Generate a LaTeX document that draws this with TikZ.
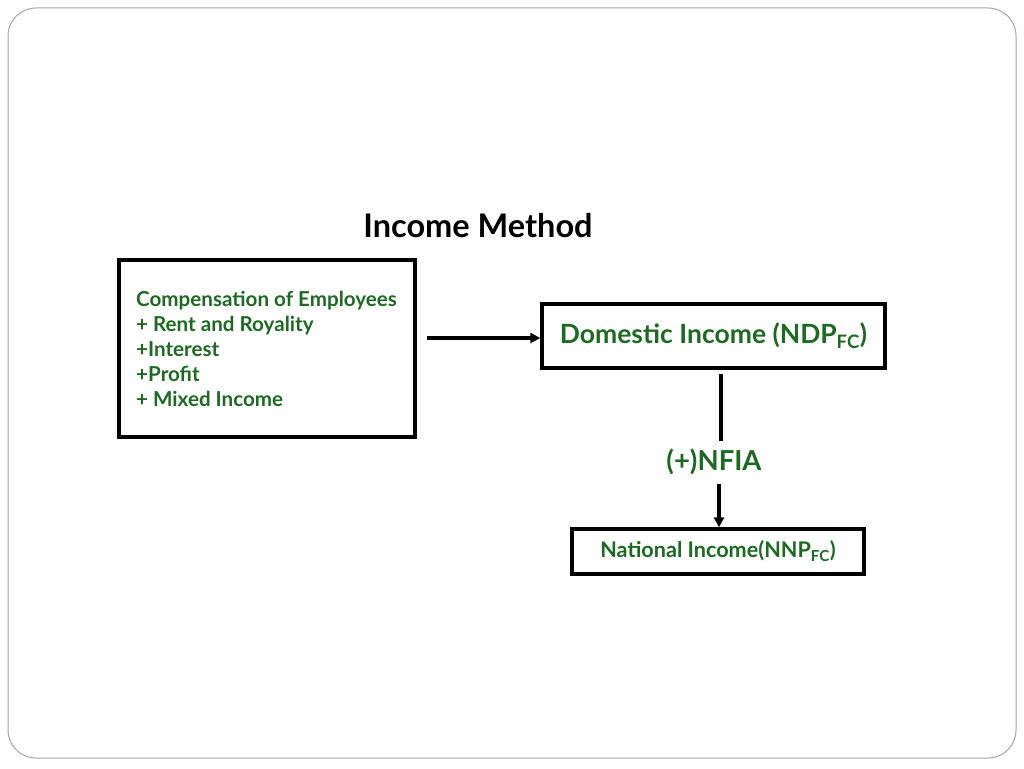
\documentclass[tikz,border=0pt]{standalone}
\usepackage{fontspec}
\setmainfont{Lato}
\usetikzlibrary{arrows.meta}
\definecolor{grn}{RGB}{30,105,35}
\begin{document}
\begin{tikzpicture}[x=1pt,y=-1pt,
  bx/.style={draw=black,line width=3.4pt},
  arr/.style={line width=3.4pt,-{Triangle[length=10pt,width=10pt]}}]
\useasboundingbox (0,0) rectangle (1024,768);
\draw[draw=gray!70,line width=1pt,rounded corners=28pt] (8,8) rectangle (1016,758);
\node (title) at (478,226) {\fontsize{32.5}{36}\selectfont\bfseries Income Method};
\draw[bx] (119,260) rectangle (415,437);
\node[text=grn,anchor=north west,align=left,inner sep=0pt,font=\fontsize{20.6}{25}\selectfont\bfseries] (list) at (136,291)
 {Compensation of Employees\\+ Rent and Royality\\+Interest\\+Profit\\+ Mixed Income};
\node[bx,minimum width=343pt,minimum height=64pt,inner sep=0pt] (dom) at (713.5,336)
 {\textcolor{grn}{\fontsize{26.5}{30}\selectfont\bfseries Domestic Income (NDP\textsubscript{FC})}};
\coordinate (a1) at (427,338);
\draw[arr] (a1) -- (a1-|dom.west);
\node (nfia) at (714,462) {\textcolor{grn}{\fontsize{27.5}{30}\selectfont\bfseries (+)NFIA}};
\node[bx,minimum width=292pt,minimum height=45pt,inner sep=0pt] (nat) at (718,551.5)
 {\textcolor{grn}{\fontsize{21.6}{24}\selectfont\bfseries National Income(NNP\textsubscript{FC})}};
\coordinate (v1) at (721,374);
\coordinate (v2) at (721,441);
\draw[line width=3.4pt] (v1) -- (v2);
\coordinate (v3) at (719,484);
\draw[arr] (v3) -- ([xshift=1pt]nat.north);
\end{tikzpicture}
\end{document}
